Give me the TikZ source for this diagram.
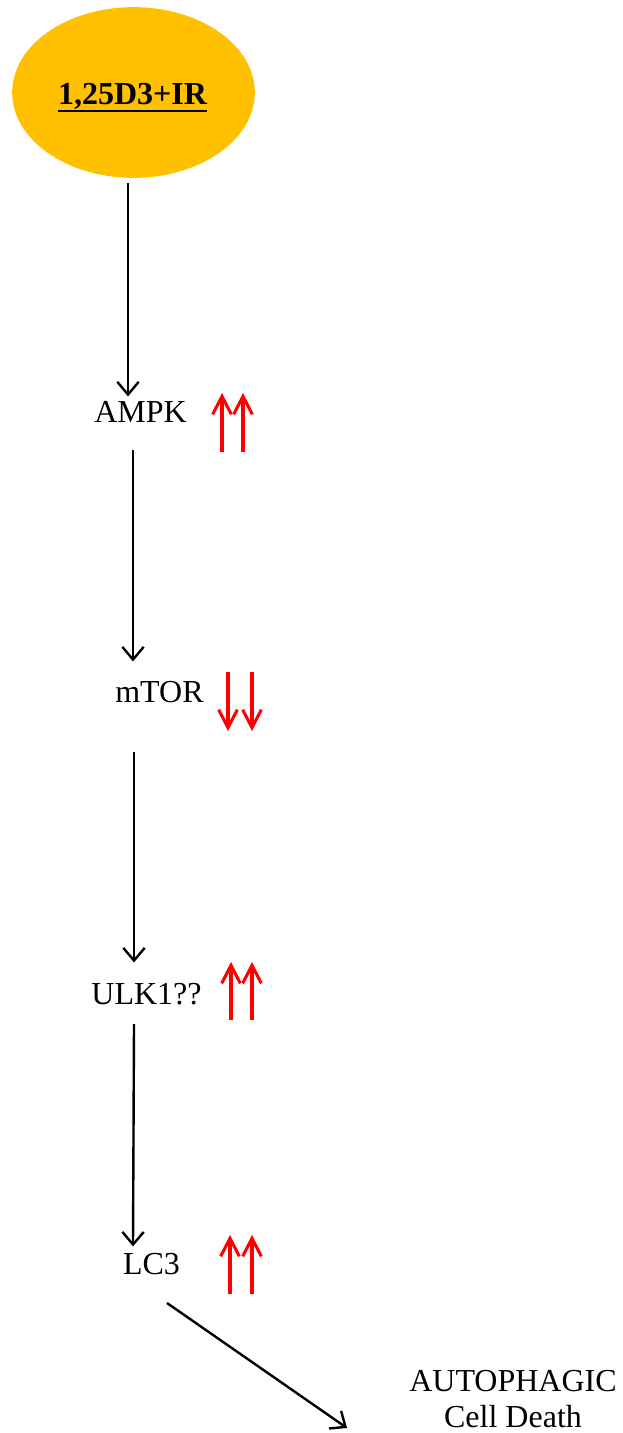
\documentclass[tikz,border=0pt]{standalone}
\usepackage{fontspec}
\setmainfont{Liberation Serif}
\usetikzlibrary{shapes.geometric,arrows.meta,calc}
\definecolor{gold}{HTML}{FFC000}
\tikzset{
  lbl/.style={inner sep=0pt, font=\fontsize{24}{27}\selectfont, text height=16pt, text depth=0pt, anchor=south},
  conn/.style={line width=1.8pt, -{Straight Barb[length=9.5pt,width=16pt,line width=1.8pt]}},
  redarr/.style={red, line width=2.3pt, -{Straight Barb[length=13.5pt,width=14pt,line width=2.3pt]}},
  srcnode/.style={ellipse, fill=gold, draw=none, minimum width=182pt, minimum height=128pt, inner sep=0pt}
}
\begin{document}
\begin{tikzpicture}[x=0.75pt,y=-0.75pt]
\useasboundingbox (0,0) rectangle (623,1433);
\node[srcnode] (e) at (133.5,92.5) {};
\node[inner sep=0pt, anchor=base, font=\fontsize{24}{27}\selectfont\bfseries] (t) at (132.5,105) {1,25D3+IR};
\draw[line width=2.2pt] ($(t.base west)+(0,6)$) -- ($(t.base east)+(0,6)$);
\node[lbl] (ampk) at (140.5,423) {AMPK};
\node[lbl] (mtor) at (159.5,703) {mTOR};
\node[lbl] (ulk) at (146.5,1005) {ULK1??};
\node[lbl] (lc) at (151.5,1275) {LC3};
\node[inner sep=0pt, font=\fontsize{24}{27}\selectfont, align=center] (auto) at (513,1399.5) {AUTOPHAGIC\\Cell Death};
\draw[conn] ($(e.south)+(-5.5,5)$) -- ($(ampk.north)+(-12.5,-4.7)$);
\draw[conn] ($(ampk.south)+(-7.5,27)$) -- ($(mtor.north)+(-26.5,-19.7)$);
\draw[conn] ($(mtor.south)+(-25.5,49)$) -- ($(ulk.north)+(-12.5,-20.7)$);
\draw[conn] ($(ulk.south)+(-12.5,19)$) -- ($(lc.north)+(-18.5,-6.7)$);
\draw[conn] ($(lc.south)+(15.5,28)$) -- ($(auto.center)+(-166,28.5)$);
% indicator arrows
\draw[redarr] (222,452) -- (222,393);
\draw[redarr] (243,452) -- (243,393);
\draw[redarr] (228,672) -- (228,731);
\draw[redarr] (252,672) -- (252,731);
\draw[redarr] (231,1020) -- (231,962);
\draw[redarr] (252,1020) -- (252,962);
\draw[redarr] (230,1294) -- (230,1235);
\draw[redarr] (252,1294) -- (252,1235);
\end{tikzpicture}
\end{document}
